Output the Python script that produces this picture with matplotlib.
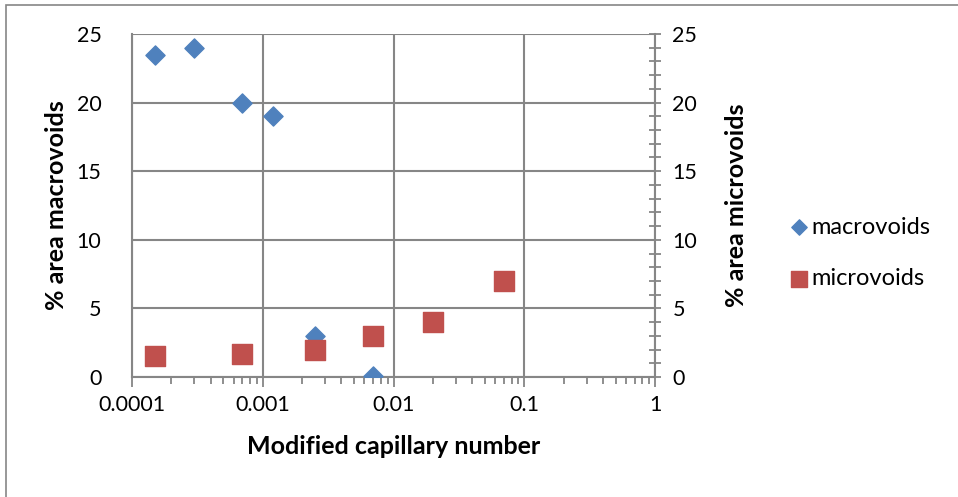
import matplotlib.pyplot as plt
from matplotlib.ticker import LogLocator, MultipleLocator, FixedLocator
from matplotlib.patches import Rectangle

# data
macro_x = [0.00015, 0.0003, 0.0007, 0.0012, 0.0025, 0.007]
macro_y = [23.5, 24.0, 20.0, 19.0, 3.0, 0.1]
micro_x = [0.00015, 0.0007, 0.0025, 0.007, 0.02, 0.07]
micro_y = [1.5, 1.7, 2.0, 3.0, 4.0, 7.0]

x_ticks = [0.0001, 0.001, 0.01, 0.1, 1]
x_labels = ["0.0001", "0.001", "0.01", "0.1", "1"]
y_ticks = [0, 5, 10, 15, 20, 25]

plt.rcParams["font.family"] = ["Lato", "DejaVu Sans"]
grey = "#868686"

fig = plt.figure(figsize=(9.58, 4.97), dpi=100)
# outer chart border
fig.patches.append(Rectangle((6/958, -0.1), 2, 1.1 - 5/497, transform=fig.transFigure,
                             fill=False, edgecolor=grey, linewidth=1.2))

ax = fig.add_axes([132/958, 1 - 377/497, (655-132)/958, (377-34)/497])
ax.set_xscale("log")
ax.set_xlim(0.0001, 1)
ax.set_ylim(0, 25)

ax.scatter(macro_x, macro_y, marker="D", s=95, color="#4F81BD", label="macrovoids", zorder=3)
ax.scatter(micro_x, micro_y, marker="s", s=190, color="#C0504D", label="microvoids", zorder=3)

ax.xaxis.set_major_locator(FixedLocator(x_ticks))
ax.set_xticklabels(x_labels)
ax.xaxis.set_minor_locator(LogLocator(base=10, subs=range(2, 10), numticks=20))
ax.yaxis.set_major_locator(FixedLocator(y_ticks))
ax.grid(True, which="major", color=grey, linewidth=1.5)
ax.set_axisbelow(True)

for s in ax.spines.values():
    s.set_color(grey)
    s.set_linewidth(1.5)
ax.spines["top"].set_visible(False)
ax.spines["right"].set_visible(False)

ax.tick_params(axis="x", which="both", direction="out", color=grey, width=1.3)
ax.tick_params(axis="x", which="major", length=7, labelsize=15.5, pad=6)
ax.tick_params(axis="x", which="minor", length=5)
ax.tick_params(axis="y", which="both", length=0, labelsize=15.5, pad=22)

ax.set_xlabel("Modified capillary number", fontsize=18, fontweight="bold", labelpad=14)
ax.set_ylabel("% area macrovoids", fontsize=18, fontweight="bold", labelpad=6)

ax2 = ax.twinx()
ax2.set_ylim(0, 25)
ax2.yaxis.set_major_locator(FixedLocator(y_ticks))
ax2.yaxis.set_minor_locator(MultipleLocator(1))
for s in ax2.spines.values():
    s.set_visible(False)
ax2.spines["right"].set_visible(True)
ax2.spines["right"].set_color(grey)
ax2.spines["right"].set_linewidth(1.5)
ax2.tick_params(axis="y", which="both", direction="inout", color=grey, width=1.3, length=9)
ax2.tick_params(axis="y", which="major", labelsize=15.5, pad=8)
ax2.set_ylabel("% area microvoids", fontsize=18, fontweight="bold", labelpad=20)

fig.legend(handles=ax.collections, labels=["macrovoids", "microvoids"],
           loc="center left", bbox_to_anchor=(772/958, 1 - 253/497), frameon=False,
           fontsize=17, handletextpad=0.05, labelspacing=1.3, markerscale=0.8,
           handlelength=0.9, borderpad=0.2)

fig.savefig("out.png", dpi=100)
